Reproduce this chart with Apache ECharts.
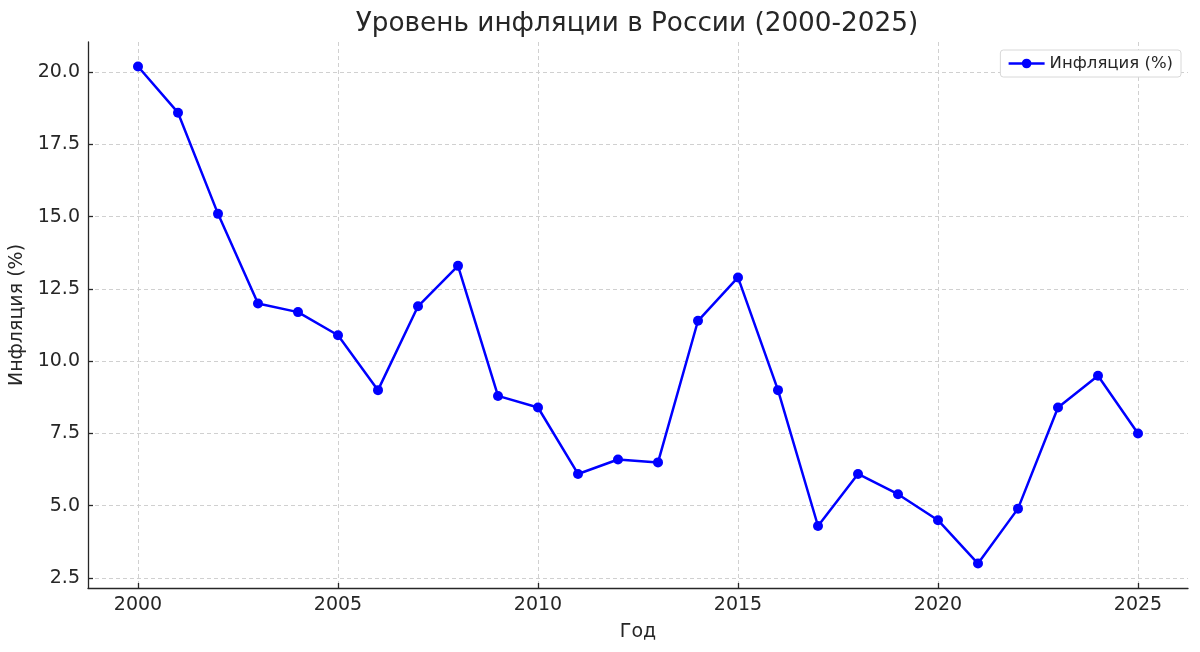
<!DOCTYPE html>
<html>
<head>
<meta charset="utf-8">
<script src="https://cdn.jsdelivr.net/npm/echarts@6/dist/echarts.min.js"></script>
<style>
  html, body { margin: 0; padding: 0; background: #fff; }
  #main { width: 1200px; height: 652px; }
</style>
</head>
<body>
<div id="main"></div>
<script>
  // data
  var years = [2000, 2001, 2002, 2003, 2004, 2005, 2006, 2007, 2008, 2009, 2010, 2011, 2012,
               2013, 2014, 2015, 2016, 2017, 2018, 2019, 2020, 2021, 2022, 2023, 2024, 2025];
  var inflation = [20.2, 18.6, 15.1, 12.0, 11.7, 10.9, 9.0, 11.9, 13.3, 8.8, 8.4, 6.1, 6.6,
                   6.5, 11.4, 12.9, 9.0, 4.3, 6.1, 5.4, 4.5, 3.0, 4.9, 8.4, 9.5, 7.5];
  var xTicks = [2000, 2005, 2010, 2015, 2020, 2025];
  var yTicks = [2.5, 5.0, 7.5, 10.0, 12.5, 15.0, 17.5, 20.0];

  var myChart = echarts.init(document.getElementById('main'));

  var font = 'DejaVu Sans';
  var points = years.map(function (y, i) { return [y, inflation[i]]; });

  var options = {
    backgroundColor: '#fff',
    animation: false,
    textStyle: { fontFamily: font },
    title: {
      text: 'Уровень инфляции в России (2000-2025)',
      left: 632,
      top: 6,
      textAlign: 'center',
      textStyle: { fontFamily: font, fontSize: 26.3, fontWeight: 'normal', color: '#262626' }
    },
    legend: {
      right: 19,
      top: 50,
      orient: 'vertical',
      backgroundColor: '#fff',
      borderColor: '#d8d8d8',
      borderWidth: 1,
      borderRadius: 3,
      padding: [5, 8, 5, 7],
      itemWidth: 36,
      itemHeight: 12,
      itemGap: 6,
      lineStyle: { width: 2.5 },
      textStyle: { fontFamily: font, fontSize: 16.5, color: '#262626' },
      data: ['Инфляция (%)']
    },
    grid: { left: 88, right: 12, top: 42, bottom: 64, containLabel: false, outerBoundsMode: 'none' },
    xAxis: {
      type: 'value',
      min: 1998.75,
      max: 2026.25,
      name: 'Год',
      nameLocation: 'middle',
      nameGap: 35,
      nameTextStyle: { fontFamily: font, fontSize: 19, color: '#262626' },
      axisLine: { lineStyle: { color: '#262626', width: 1.3 } },
      axisTick: { inside: true, length: 5, customValues: xTicks, lineStyle: { color: '#262626', width: 1.3 } },
      axisLabel: {
        customValues: xTicks,
        fontFamily: font, fontSize: 19, color: '#262626', margin: 8,
        formatter: function (v) { return String(v); }
      },
      splitLine: { show: true, lineStyle: { color: '#d0d0d0', type: [4, 3], width: 1 } }
    },
    yAxis: {
      type: 'value',
      min: 2.154,
      max: 21.046,
      name: 'Инфляция (%)',
      nameLocation: 'middle',
      nameRotate: 90,
      nameGap: 54,
      nameTextStyle: { fontFamily: font, fontSize: 19, color: '#262626' },
      axisLine: { show: true, lineStyle: { color: '#262626', width: 1.3 } },
      axisTick: { show: true, inside: true, length: 5, customValues: yTicks, lineStyle: { color: '#262626', width: 1.3 } },
      axisLabel: {
        customValues: yTicks,
        fontFamily: font, fontSize: 19, color: '#262626', margin: 8,
        formatter: function (v) { return v.toFixed(1); }
      },
      splitLine: { show: true, lineStyle: { color: '#d0d0d0', type: [4, 3], width: 1 } }
    },
    series: [
      {
        name: 'Инфляция (%)',
        type: 'line',
        data: points,
        symbol: 'circle',
        symbolSize: 10,
        color: '#0000ff',
        lineStyle: { color: '#0000ff', width: 2.5 },
        itemStyle: { color: '#0000ff' }
      }
    ]
  };
  myChart.setOption(options);
</script>
</body>
</html>
